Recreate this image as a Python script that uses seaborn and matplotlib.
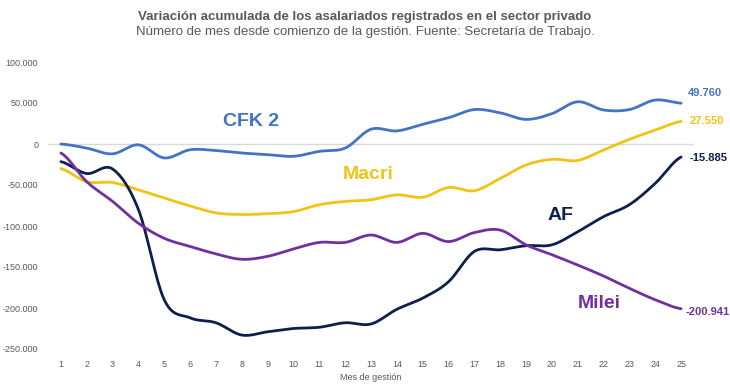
import numpy as np
import pandas as pd
import matplotlib
matplotlib.use("Agg")
import matplotlib.pyplot as plt
import seaborn as sns
from matplotlib import font_manager

meses = list(range(1, 26))
cfk2 = [0, -5000, -12000, -1000, -17000, -7000, -8000, -11000, -13000, -15000,
        -9000, -5000, 18000, 16000, 24000, 32000, 42000, 38000, 30000, 37000,
        51500, 41500, 42000, 53600, 49760]
macri = [-30000, -46000, -47000, -56000, -66000, -75500, -84000, -86000, -85000, -82500,
         -74000, -70000, -68000, -62000, -65000, -53000, -57000, -42000, -25600, -18700,
         -20000, -7300, 5700, 17000, 27550]
af = [-21500, -36000, -30500, -80000, -190000, -212000, -218000, -233000, -229000, -225000,
      -223500, -218000, -219500, -201600, -188000, -168000, -131000, -129000, -124000, -123000,
      -107000, -88600, -74000, -48000, -15885]
milei = [-11000, -46000, -70000, -96700, -115000, -125000, -134000, -140600, -137000, -128000,
         -120000, -120000, -111000, -120000, -109000, -119000, -108000, -105000, -123000, -135000,
         -147600, -161000, -176000, -190000, -200941]

series = {"CFK 2": cfk2, "Macri": macri, "AF": af, "Milei": milei}
colors = {"CFK 2": "#4472C4", "Macri": "#F2C314", "AF": "#0E1E4E", "Milei": "#7030A0"}
end_labels = {"CFK 2": "49.760", "Macri": "27.550", "AF": "-15.885", "Milei": "-200.941"}

yticks = [100000, 50000, 0, -50000, -100000, -150000, -200000, -250000]

title = "Variación acumulada de los asalariados registrados en el sector privado"
subtitle = "Número de mes desde comienzo de la gestión. Fuente: Secretaría de Trabajo."

sns.set_theme(style="white")
avail = {f.name for f in font_manager.fontManager.ttflist}
narrow = "Liberation Sans Narrow" if "Liberation Sans Narrow" in avail else "Liberation Sans"
plt.rcParams["font.family"] = ["Liberation Sans", "DejaVu Sans"]


def smooth(x, y, n=20):
    # Catmull-Rom style smoothing for display (like Excel smoothed lines)
    x = np.asarray(x, float)
    y = np.asarray(y, float)
    xs, ys = [], []
    for i in range(len(x) - 1):
        p0 = y[i - 1] if i > 0 else y[i]
        p1, p2 = y[i], y[i + 1]
        p3 = y[i + 2] if i + 2 < len(y) else y[i + 1]
        t = np.linspace(0, 1, n, endpoint=False)
        yy = 0.5 * ((2 * p1) + (-p0 + p2) * t + (2 * p0 - 5 * p1 + 4 * p2 - p3) * t ** 2
                    + (-p0 + 3 * p1 - 3 * p2 + p3) * t ** 3)
        xs.extend(x[i] + t * (x[i + 1] - x[i]))
        ys.extend(yy)
    xs.append(x[-1])
    ys.append(y[-1])
    return np.array(xs), np.array(ys)


frames = []
for name, vals in series.items():
    sx, sy = smooth(meses, vals)
    frames.append(pd.DataFrame({"mes": sx, "valor": sy, "serie": name}))
df = pd.concat(frames, ignore_index=True)

fig = plt.figure(figsize=(7.3, 3.85), dpi=100)
ax = fig.add_axes([48 / 730, 1 - 349 / 385, (694 - 48) / 730, (349 - 62) / 385])

ax.axhline(0, color="#D9D9D9", lw=1, zorder=0)
sns.lineplot(data=df, x="mes", y="valor", hue="serie", palette=colors, lw=2,
             legend=False, ax=ax, sort=False, estimator=None)

ax.set_xlim(0.5, 25.5)
ax.set_ylim(-250000, 100000)
ax.set_xticks(meses)
ax.set_xticklabels([str(m) for m in meses])
ax.set_yticks(yticks)
ax.set_yticklabels([f"{v:,}".replace(",", ".") for v in yticks])
ax.tick_params(axis="both", colors="#595959", labelsize=6.5, length=0)
ax.tick_params(axis="x", pad=8)
ax.tick_params(axis="y", pad=7)
for s in ax.spines.values():
    s.set_visible(False)
ax.set_ylabel("")
ax.set_xlabel("Mes de gestión", fontsize=6.5, color="#595959", labelpad=3)

# series name labels
ax.text(8.36, 27200, "CFK 2", color=colors["CFK 2"], fontsize=14, fontweight="bold",
        ha="center", va="center")
ax.text(12.9, -36600, "Macri", color=colors["Macri"], fontsize=14, fontweight="bold",
        ha="center", va="center")
ax.text(20.35, -86600, "AF", color=colors["AF"], fontsize=14, fontweight="bold",
        ha="center", va="center")
ax.text(21.85, -195000, "Milei", color=colors["Milei"], fontsize=14, fontweight="bold",
        ha="center", va="center")

# end labels
offsets = {"CFK 2": (5, 7), "Macri": (6, 0), "AF": (6, -1), "Milei": (3, -2)}
for name, vals in series.items():
    ax.annotate(end_labels[name], (meses[-1], vals[-1]),
                xytext=offsets[name], textcoords="offset points", color=colors[name],
                fontsize=8, fontweight="bold", ha="left", va="center",
                annotation_clip=False)

fig.text(0.5, 1 - 17 / 385, title, ha="center", va="center", fontsize=9.5,
         fontweight="bold", color="#595959", family=[narrow, "DejaVu Sans"])
fig.text(0.5, 1 - 32 / 385, subtitle, ha="center", va="center", fontsize=9.5,
         color="#595959", family=[narrow, "DejaVu Sans"])

fig.savefig("out.png", dpi=100, facecolor="white")
